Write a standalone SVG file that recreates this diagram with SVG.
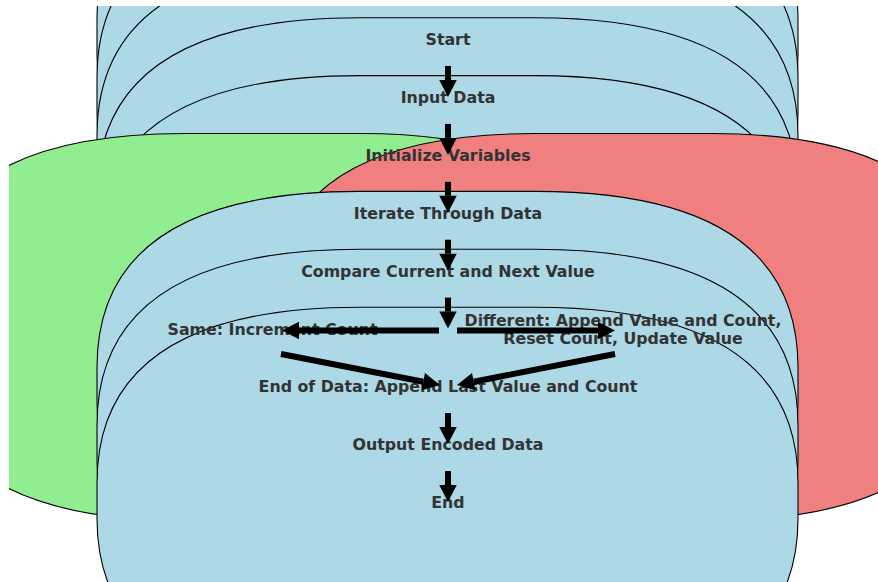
<svg xmlns="http://www.w3.org/2000/svg" xmlns:xlink="http://www.w3.org/1999/xlink" width="878" height="582" viewBox="0 0 878 582">
  <style>
    .box { stroke: #000; stroke-width: 1.1; }
    .blue { fill: #add8e6; }
    .green { fill: #90ee90; }
    .red { fill: #f08080; }
    .label { font-family: "DejaVu Sans", "Liberation Sans", sans-serif; font-weight: bold; font-size: 15.8px; fill: #333333; text-anchor: middle; }
    .flow { stroke: #000; stroke-width: 6; fill: none; marker-end: url(#head); }
  </style>
  <defs>
    <!-- rounded box (quadratic corners), centred on its label -->
    <path id="rbox" d="M-87.5,-196 H87.5 Q350.5,-196 350.5,-20 V15 Q350.5,191 87.5,191 H-87.5 Q-350.5,191 -350.5,15 V-20 Q-350.5,-196 -87.5,-196 Z"/>
    <marker id="head" markerUnits="userSpaceOnUse" orient="auto" overflow="visible" refX="0" refY="0" markerWidth="1" markerHeight="1">
      <path d="M0,-8.75 L17,0 L0,8.75 Z" fill="#000"/>
    </marker>
    <clipPath id="plot">
      <rect x="9" y="6" width="869" height="576"/>
    </clipPath>
  </defs>

  <rect x="0" y="0" width="878" height="582" fill="#ffffff"/>

  <g clip-path="url(#plot)">
    <g id="node-start"><use xlink:href="#rbox" class="box blue" transform="translate(447.5,40)"/></g>
    <g id="node-input"><use xlink:href="#rbox" class="box blue" transform="translate(447.5,97.9)"/></g>
    <g id="node-init"><use xlink:href="#rbox" class="box blue" transform="translate(447.5,155.8)"/></g>
    <g id="node-iterate"><use xlink:href="#rbox" class="box blue" transform="translate(447.5,213.7)"/></g>
    <g id="node-compare"><use xlink:href="#rbox" class="box blue" transform="translate(447.5,271.6)"/></g>
    <g id="node-same"><use xlink:href="#rbox" class="box green" transform="translate(272.5,329.5)"/></g>
    <g id="node-different"><use xlink:href="#rbox" class="box red" transform="translate(623,329.5)"/></g>
    <g id="node-end-of-data"><use xlink:href="#rbox" class="box blue" transform="translate(447.5,387.4)"/></g>
    <g id="node-output"><use xlink:href="#rbox" class="box blue" transform="translate(447.5,445.3)"/></g>
    <g id="node-end"><use xlink:href="#rbox" class="box blue" transform="translate(447.5,503.2)"/></g>
  </g>

  <g id="labels">
    <text id="label-start" class="label" x="448" y="45">Start</text>
    <text id="label-input" class="label" x="448" y="102.9">Input Data</text>
    <text id="label-init" class="label" x="448" y="160.8">Initialize Variables</text>
    <text id="label-iterate" class="label" x="448" y="218.7">Iterate Through Data</text>
    <text id="label-compare" class="label" x="448" y="276.6">Compare Current and Next Value</text>
    <text id="label-same" class="label" x="272.5" y="334.5">Same: Increment Count</text>
    <text id="label-different" class="label" x="623" y="326">Different: Append Value and Count,<tspan x="623" y="343.5">Reset Count, Update Value</tspan></text>
    <text id="label-end-of-data" class="label" x="448" y="392.4">End of Data: Append Last Value and Count</text>
    <text id="label-output" class="label" x="448" y="450.3">Output Encoded Data</text>
    <text id="label-end" class="label" x="448" y="508.2">End</text>
  </g>

  <g id="connectors">
    <line class="flow" x1="448" y1="66" x2="448" y2="80"/>
    <line class="flow" x1="448" y1="123.9" x2="448" y2="137.9"/>
    <line class="flow" x1="448" y1="181.8" x2="448" y2="195.8"/>
    <line class="flow" x1="448" y1="239.7" x2="448" y2="253.7"/>
    <line class="flow" x1="448" y1="297.6" x2="448" y2="311.6"/>
    <line class="flow" x1="439" y1="330.5" x2="299" y2="330.5"/>
    <line class="flow" x1="457" y1="330.5" x2="598" y2="330.5"/>
    <line class="flow" x1="281" y1="354" x2="423.3" y2="381.7"/>
    <line class="flow" x1="615" y1="354" x2="473.7" y2="381.7"/>
    <line class="flow" x1="448" y1="413" x2="448" y2="427"/>
    <line class="flow" x1="448" y1="471" x2="448" y2="485"/>
  </g>
</svg>
